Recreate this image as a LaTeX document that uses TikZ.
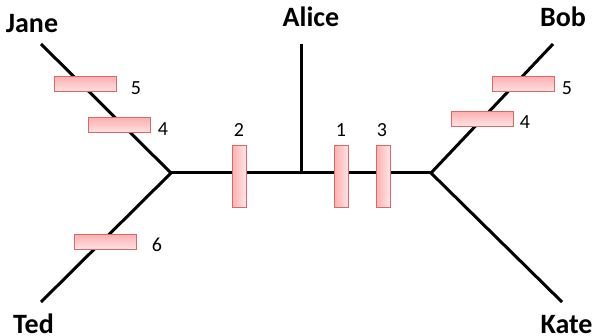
\documentclass[tikz,border=0pt]{standalone}
\usepackage{fontspec}
\setmainfont{Carlito}
\usetikzlibrary{shadings}
\definecolor{barfill}{HTML}{FFB0B0}
\definecolor{barlight}{HTML}{FFE4E4}
\definecolor{barline}{HTML}{D46A6A}
\tikzset{
  branch/.style={line width=3pt},
  taxon/.style={font=\bfseries\fontsize{28}{30}\selectfont, inner sep=0pt, anchor=base},
  count/.style={font=\fontsize{20}{22}\selectfont, inner sep=0pt},
  hbar/.style={draw=barline, line width=1pt, top color=barfill, bottom color=barlight,
    minimum width=62pt, minimum height=15pt, inner sep=0pt},
  vbar/.style={draw=barline, line width=1pt, left color=barfill, right color=barlight,
    minimum width=14pt, minimum height=62pt, inner sep=0pt},
}
\begin{document}
\begin{tikzpicture}[x=1pt, y=-1pt]
\useasboundingbox (0,0) rectangle (593,336);
% tree skeleton
\coordinate (L) at (171,173);
\coordinate (R) at (431,173);
\coordinate (M) at (301,173);
\coordinate (tJ) at (41,44);
\coordinate (tT) at (41,302);
\coordinate (tA) at (301,44);
\coordinate (tB) at (553,44);
\coordinate (tK) at (562,302);
\draw[branch] (tJ) -- (L) -- (tT);
\draw[branch] (L) -- (R);
\draw[branch] (tA) -- (M);
\draw[branch] (tB) -- (R) -- (tK);
% leaf names (placed by baseline)
\node[taxon] (jane) at (32,33) {Jane};
\node[taxon] (alice) at (311,27) {Alice};
\node[taxon] (bob) at (563,27) {Bob};
\node[taxon] (ted) at (33.5,333) {Ted};
\node[taxon] (kate) at (566.5,333) {Kate};
% change marks on branches
\node[hbar] (j5) at (85,84.5) {};
\node[hbar] (j4) at (119,125.5) {};
\node[hbar] (t6) at (105,242) {};
\node[hbar] (b5) at (523,84.5) {};
\node[hbar] (b4) at (482,119) {};
\node[vbar] (m2) at (239,177) {};
\node[vbar] (m1) at (341.5,177) {};
\node[vbar] (m3) at (383,177) {};
% mark labels
\node[count] (lj5) at (136,88) {5};
\node[count] (lj4) at (163,129) {4};
\node[count] (lt6) at (157,245) {6};
\node[count] (lb5) at (567,88) {5};
\node[count] (lb4) at (525,122) {4};
\node[count] (lm2) at (239,130) {2};
\node[count] (lm1) at (341,130) {1};
\node[count] (lm3) at (382,130) {3};
\end{tikzpicture}
\end{document}
